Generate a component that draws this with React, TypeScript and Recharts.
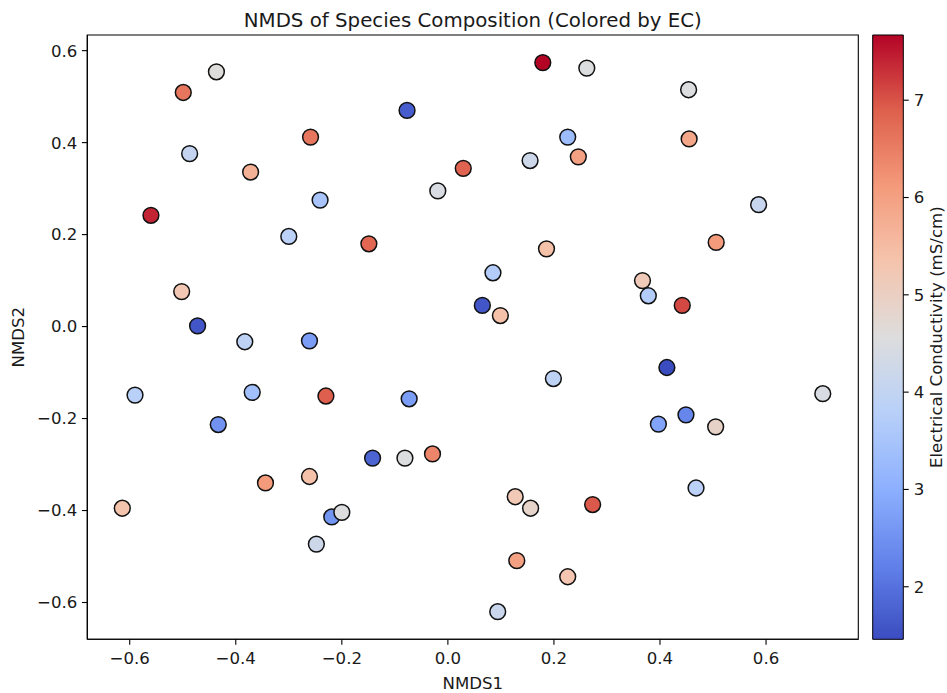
import React from 'react';
import { ScatterChart, Scatter, XAxis, YAxis, ReferenceArea, Label } from 'recharts';

// ---- data ----
const nmds1 = [
  -0.4365, -0.499, -0.077, -0.487, -0.259, -0.372, 0.029, -0.019, -0.241, -0.56,
  -0.3, -0.149, -0.502, -0.472, -0.383, -0.261, -0.59, -0.369, -0.23, -0.073,
  -0.433, -0.142, -0.081, -0.029, -0.344, -0.261, -0.614, -0.219, -0.2, -0.248,
  0.179, 0.262, 0.454, 0.226, 0.155, 0.246, 0.455, 0.586, 0.506, 0.186,
  0.085, 0.367, 0.378, 0.442, 0.065, 0.099, 0.413, 0.199, 0.707, 0.449,
  0.397, 0.505, 0.468, 0.127, 0.156, 0.273, 0.13, 0.226, 0.094,
];
const nmds2 = [
  0.554, 0.509, 0.47, 0.376, 0.412, 0.336, 0.344, 0.295, 0.275, 0.242,
  0.196, 0.18, 0.076, 0.0015, -0.033, -0.031, -0.149, -0.143, -0.151, -0.157,
  -0.213, -0.286, -0.286, -0.277, -0.34, -0.326, -0.395, -0.414, -0.404, -0.473,
  0.574, 0.562, 0.515, 0.412, 0.361, 0.369, 0.408, 0.265, 0.183, 0.169,
  0.117, 0.1, 0.067, 0.046, 0.046, 0.024, -0.089, -0.113, -0.146, -0.192,
  -0.212, -0.218, -0.351, -0.37, -0.395, -0.387, -0.509, -0.544, -0.62,
];
const ecValues = [
  4.6, 6.6, 1.7, 4.05, 6.6, 5.7, 6.85, 4.45, 3.5, 7.4,
  3.85, 6.8, 5.25, 1.6, 3.9, 2.7, 3.8, 3.4, 6.9, 2.7,
  2.5, 1.8, 4.55, 6.4, 6.1, 5.4, 5.35, 2.55, 4.55, 4.2,
  7.67, 4.55, 4.55, 3.3, 4.2, 6.0, 5.9, 4.1, 6.1, 5.4,
  3.7, 5.15, 3.7, 7.1, 1.6, 5.4, 1.46, 3.9, 4.45, 2.3,
  2.8, 4.9, 3.85, 5.2, 4.85, 6.95, 6.0, 5.3, 4.15,
];
const xTicks = [-0.6, -0.4, -0.2, 0, 0.2, 0.4, 0.6];
const yTicks = [-0.6, -0.4, -0.2, 0, 0.2, 0.4, 0.6];
const cbTicks = [2, 3, 4, 5, 6, 7];

const X_DOMAIN: [number, number] = [-0.68, 0.774];
const Y_DOMAIN: [number, number] = [-0.68, 0.634];
const EC_MIN = 1.46;
const EC_MAX = 7.67;

const points = nmds1.map((x, i) => ({ x, y: nmds2[i], ec: ecValues[i] }));

// matplotlib "coolwarm" anchors
const CW: [number, number, number][] = [
  [59, 76, 192], [98, 130, 234], [141, 176, 254], [184, 208, 249],
  [221, 221, 221], [245, 196, 173], [244, 154, 123], [222, 96, 77], [180, 4, 38],
];
function coolwarm(t: number): string {
  const tt = Math.max(0, Math.min(1, t)) * (CW.length - 1);
  const i = Math.min(CW.length - 2, Math.floor(tt));
  const f = tt - i;
  const c = CW[i].map((v, k) => Math.round(v + (CW[i + 1][k] - v) * f));
  return `rgb(${c[0]},${c[1]},${c[2]})`;
}
const norm = (v: number) => (v - EC_MIN) / (EC_MAX - EC_MIN);

const FONT = 'DejaVu Sans, sans-serif';
const TXT = '#1a1a1a';
const FS = 16.6;
const tickStyle = { fontSize: FS, fontFamily: FONT, fill: TXT };

const Dot = (props: any) => {
  const { cx, cy, payload } = props;
  if (cx == null || cy == null) return null;
  return (
    <circle cx={cx} cy={cy} r={7.9} fill={coolwarm(norm(payload.ec))} stroke="#111" strokeWidth={1.5} />
  );
};

const gradStops = Array.from({ length: 41 }, (_, i) => i / 40);

export default function App() {
  return (
    <div style={{ position: 'absolute', left: 0, top: 0, width: 947, height: 693, background: '#fff' }}>
      <div style={{ position: 'absolute', left: 0, top: 0 }}>
        <ScatterChart width={947} height={693} margin={{ top: 35, right: 88.7, bottom: 3.7, left: 7.3 }}>
          <XAxis
            type="number"
            dataKey="x"
            domain={X_DOMAIN}
            ticks={xTicks}
            allowDataOverflow
            height={50}
            tickSize={5.4}
            tickMargin={7.5}
            tick={tickStyle}
            tickFormatter={(v: number) => v.toFixed(1).replace('-', '\u2212')}
            axisLine={{ stroke: '#000', strokeWidth: 1.1 }}
            tickLine={{ stroke: '#000', strokeWidth: 1.1 }}
          >
            <Label
              content={(p: any) => {
                const vb = p.viewBox;
                return (
                  <text x={vb.x + vb.width / 2} y={689} textAnchor="middle" fontSize={FS} fontFamily={FONT} fill={TXT}>
                    NMDS1
                  </text>
                );
              }}
            />
          </XAxis>
          <YAxis
            type="number"
            dataKey="y"
            domain={Y_DOMAIN}
            ticks={yTicks}
            allowDataOverflow
            width={80}
            tickSize={5.4}
            tickMargin={4.6}
            tick={tickStyle}
            tickFormatter={(v: number) => v.toFixed(1).replace('-', '\u2212')}
            axisLine={{ stroke: '#000', strokeWidth: 1.1 }}
            tickLine={{ stroke: '#000', strokeWidth: 1.1 }}
          >
            <Label
              content={(p: any) => {
                const vb = p.viewBox;
                const cy = vb.y + vb.height / 2;
                return (
                  <text x={19} y={cy} transform={`rotate(-90 19 ${cy})`} textAnchor="middle" dominantBaseline="central" fontSize={FS} fontFamily={FONT} fill={TXT}>
                    NMDS2
                  </text>
                );
              }}
            />
          </YAxis>
          <ReferenceArea x1={X_DOMAIN[0]} x2={X_DOMAIN[1]} y1={Y_DOMAIN[0]} y2={Y_DOMAIN[1]} fill="none" stroke="#000" strokeWidth={1.1} fillOpacity={0} />
          <Scatter data={points} shape={Dot} isAnimationActive={false} />
        </ScatterChart>
      </div>
      <div style={{ position: 'absolute', left: 0, top: 0 }}>
        <ScatterChart width={947} height={693} margin={{ top: 35, right: 3.7, bottom: 53.7, left: 872.7 }}>
          <defs>
            <linearGradient id="cbGrad" x1="0" y1="1" x2="0" y2="0">
              {gradStops.map((t) => (
                <stop key={t} offset={t} stopColor={coolwarm(t)} />
              ))}
            </linearGradient>
          </defs>
          <XAxis type="number" dataKey="x" domain={[0, 1]} hide allowDataOverflow />
          <YAxis
            type="number"
            dataKey="y"
            orientation="right"
            domain={[EC_MIN, EC_MAX]}
            ticks={cbTicks}
            allowDataOverflow
            width={40}
            tickSize={5.4}
            tickMargin={5}
            tick={{ ...tickStyle, textAnchor: 'start' }}
            axisLine={false}
            tickLine={{ stroke: '#000', strokeWidth: 1.1 }}
          >
            <Label
              content={(p: any) => {
                const vb = p.viewBox;
                const cy = vb.y + vb.height / 2;
                return (
                  <text x={937} y={cy} transform={`rotate(-90 937 ${cy})`} textAnchor="middle" dominantBaseline="central" fontSize={FS} fontFamily={FONT} fill={TXT}>
                    Electrical Conductivity (mS/cm)
                  </text>
                );
              }}
            />
          </YAxis>
          <ReferenceArea x1={0} x2={1} y1={EC_MIN} y2={EC_MAX} fill="url(#cbGrad)" fillOpacity={1} stroke="#000" strokeWidth={1} />
          <Scatter data={[]} isAnimationActive={false} />
        </ScatterChart>
      </div>
      <svg width={947} height={693} style={{ position: 'absolute', left: 0, top: 0, pointerEvents: 'none' }}>
        <text x={472.8} y={26.5} textAnchor="middle" fontSize={19.8} fontFamily={FONT} fill={TXT}>
          NMDS of Species Composition (Colored by EC)
        </text>
      </svg>
    </div>
  );
}
